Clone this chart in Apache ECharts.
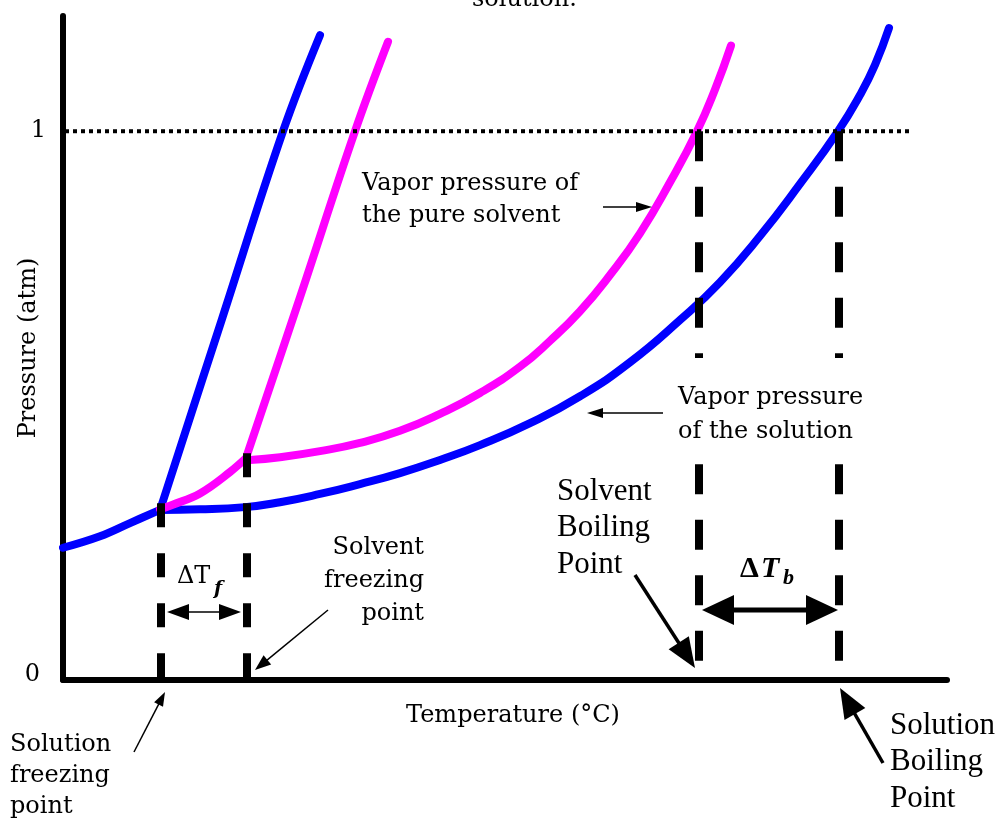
<!DOCTYPE html>
<html><head><meta charset="utf-8">
<script src="https://cdn.jsdelivr.net/npm/echarts@6/dist/echarts.min.js"></script>
<style>html,body{margin:0;padding:0;background:#fff}#c{width:1002px;height:825px}</style>
</head><body><div id="c"></div>
<script>
// ---- data (temperature in arbitrary units, pressure in atm) ----
const solutionVaporLow = [[0,0.241],[37,0.262],[67,0.286],[97,0.310]];
const solutionVapor = [[97,0.310],[137,0.311],[182,0.315],[217,0.324],[257,0.339],[297,0.357],[337,0.377],[377,0.401],[417,0.428],[467,0.468],[517,0.517],[567,0.579],[617,0.656],[657,0.725],[697,0.809],[737,0.904],[775,1.0],[797,1.066],[812,1.121],[826,1.188]];
const solutionFusion = [[98,0.315],[159,0.658],[220,1.0],[257,1.175]];
const solventSublimation = [[97,0.311],[109,0.319],[137,0.340],[167,0.379],[184,0.406]];
const solventVapor = [[187,0.401],[217,0.406],[257,0.417],[297,0.432],[337,0.454],[377,0.485],[417,0.523],[457,0.571],[487,0.618],[517,0.672],[547,0.738],[577,0.814],[607,0.907],[634,1.0],[652,1.076],[668,1.156]];
const solventFusion = [[184,0.410],[238,0.703],[292,1.0],[325,1.163]];
const onePressureLine = [[2,1],[847,1]];
const solutionFreezingPoint = 98, solventFreezingPoint = 184;
const solventBoilingPoint = 636, solutionBoilingPoint = 776;
const solutionFPTop = 0.322, solventFPTop = 0.413;
const yTickLabels = ['0','1'];

const BLUE = '#0000ff', MAGENTA = '#ff00ff';
const SERIF = '"DejaVu Serif", serif';
const TIMES = '"Liberation Serif", "Times New Roman", serif';

function curve(data, color, smooth){
  return {type:'line', data, symbol:'none', smooth, clip:false, silent:true, z:2,
    lineStyle:{color, width:8, cap:'round', join:'round'}};
}
function dashed(data, dash, width, z){
  return {type:'line', data, symbol:'none', clip:false, silent:true, z:z||3,
    lineStyle:{color:'#000', width, type:dash, cap:'butt'}};
}

const chart = echarts.init(document.getElementById('c'));
chart.setOption({
  animation:false,
  backgroundColor:'#fff',
  grid:{left:63, top:16, width:884, height:664, containLabel:false, outerBoundsMode:'none'},
  xAxis:{type:'value', min:0, max:884, splitLine:{show:false}, axisTick:{show:false}, axisLabel:{show:false},
    axisLine:{lineStyle:{color:'#000', width:6}},
    name:'Temperature (°C)', nameLocation:'middle', nameGap:24, nameMoveOverlap:false,
    nameTextStyle:{fontFamily:SERIF, fontSize:24, color:'#000', padding:[0,0,0,16]}},
  yAxis:{type:'value', min:0, max:1.21, interval:1, splitLine:{show:false}, axisTick:{show:false},
    axisLine:{lineStyle:{color:'#000', width:6}},
    axisLabel:{margin:17, fontFamily:SERIF, fontSize:24, color:'#000',
      formatter:function(v){ if(v===0) return '{z|'+yTickLabels[0]+'}'; if(v===1) return '{o|'+yTickLabels[1]+'}'; return ''; },
      rich:{z:{fontFamily:SERIF, fontSize:24, color:'#000', padding:[0,6,10,0]}, o:{fontFamily:SERIF, fontSize:24, color:'#000'}}},
    name:'Pressure (atm)', nameLocation:'middle', nameGap:22, nameMoveOverlap:false,
    nameTextStyle:{fontFamily:SERIF, fontSize:24, color:'#000'}},
  series:[
    curve(solutionVaporLow, BLUE, 0.4),
    curve(solutionVapor, BLUE, 0.5),
    curve(solutionFusion, BLUE, 0.4),
    curve(solventSublimation, MAGENTA, 0.4),
    curve(solventVapor, MAGENTA, 0.5),
    curve(solventFusion, MAGENTA, 0.4),
    dashed(onePressureLine, [4,4], 4, 4),
    dashed([[solutionFreezingPoint, solutionFPTop],[solutionFreezingPoint,0]], [24,26], 8),
    dashed([[solventFreezingPoint, solventFPTop],[solventFreezingPoint,0]], [24,26], 8),
    dashed([[solventBoilingPoint,1],[solventBoilingPoint,0]], [30,25.5], 8),
    dashed([[solutionBoilingPoint,1],[solutionBoilingPoint,0]], [30,25.5], 8)
  ]
});

// ---- annotations ----
function arrowHead(tx,ty,ux,uy,hl,hw,col){
  const bx=tx-ux*hl, by=ty-uy*hl;
  return {type:'polygon', z:20, shape:{points:[[tx,ty],[bx-uy*hw,by+ux*hw],[bx+uy*hw,by-ux*hw]]}, style:{fill:col}};
}
function arrow(x1,y1,x2,y2,hl,hw,lw){
  const dx=x2-x1, dy=y2-y1, L=Math.hypot(dx,dy), ux=dx/L, uy=dy/L;
  return [
    {type:'line', z:20, shape:{x1,y1,x2:x2-ux*(hl-2),y2:y2-uy*(hl-2)}, style:{stroke:'#000', lineWidth:lw}},
    arrowHead(x2,y2,ux,uy,hl,hw,'#000')
  ];
}
function dblArrow(xa,xb,y,hl,hw,lw){
  return [
    {type:'line', z:20, shape:{x1:xa+hl-2,y1:y,x2:xb-hl+2,y2:y}, style:{stroke:'#000', lineWidth:lw}},
    arrowHead(xa,y,-1,0,hl,hw,'#000'),
    arrowHead(xb,y,1,0,hl,hw,'#000')
  ];
}
function txt(text,x,y,font,align,lh,z){
  return {type:'text', x, y, z:z||21, style:{text, font, fill:'#000', align, verticalAlign:'middle',
    textAlign:align, textVerticalAlign:'middle', lineHeight:lh}};
}

const pFP1 = chart.convertToPixel({gridIndex:0}, [solutionFreezingPoint,0])[0];
const pFP2 = chart.convertToPixel({gridIndex:0}, [solventFreezingPoint,0])[0];
const pBP1 = chart.convertToPixel({gridIndex:0}, [solventBoilingPoint,0])[0];
const pBP2 = chart.convertToPixel({gridIndex:0}, [solutionBoilingPoint,0])[0];

const f24 = '24px ' + SERIF;
const t31 = '31px ' + TIMES;
const els = [
  {type:'rect', z:15, shape:{x:672,y:358,width:210,height:95}, style:{fill:'#fff'}},
  txt('Vapor pressure of\nthe pure solvent', 362, 200, f24, 'left', 32),
  txt('Vapor pressure\nof the solution', 678, 415, f24, 'left', 34),
  txt('Solvent\nfreezing\npoint', 424, 581, f24, 'right', 33),
  txt('Solution\nfreezing\npoint', 10, 776, f24, 'left', 31),
  txt('Solvent\nBoiling\nPoint', 557, 528, t31, 'left', 36.5),
  txt('Solution\nBoiling\nPoint', 890, 762, t31, 'left', 36.5),
  txt('solution.', 472, 0, f24, 'left', 24),
  txt('ΔT', 177, 577, f24, 'left', 24),
  txt('f', 214, 589, 'italic bold 19px ' + SERIF, 'left', 19),
  txt('Δ', 740, 569, 'bold 30px ' + TIMES, 'left', 30),
  txt('T', 761, 569, 'italic bold 30px ' + TIMES, 'left', 30),
  txt('b', 783, 578, 'italic bold 22px ' + TIMES, 'left', 22)
]
.concat(arrow(603,207,652,207,16,5,1.5))
.concat(arrow(663,413,587,413,16,5,1.5))
.concat(arrow(328,610,255,670,16,6,1.5))
.concat(arrow(134,752,165,692,14,5,1.5))
.concat(arrow(635,575,695,668,30,12,3.5))
.concat(arrow(883,763,840,688,30,12,3.5))
.concat(dblArrow(pFP1+6, pFP2-6, 612, 22, 8, 1.5))
.concat(dblArrow(pBP1+3, pBP2-1, 610, 32, 15, 5));

chart.setOption({graphic:{elements:els}});
</script></body></html>
